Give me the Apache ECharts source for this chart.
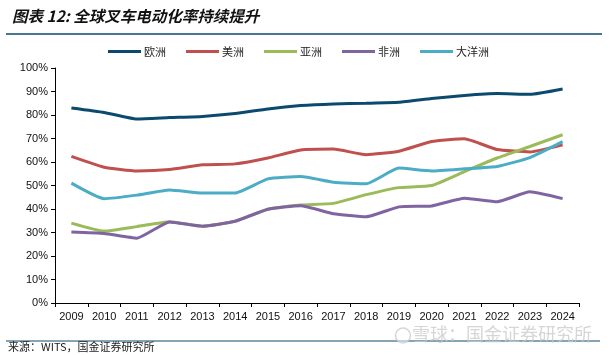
<!DOCTYPE html>
<html><head><meta charset="utf-8">
<script src="https://cdn.jsdelivr.net/npm/echarts@6/dist/echarts.min.js"></script>
<style>html,body{margin:0;padding:0;background:#fff}#c{width:610px;height:355px}</style>
</head><body><div id="c"></div>
<script>
const years = ['2009','2010','2011','2012','2013','2014','2015','2016','2017','2018','2019','2020','2021','2022','2023','2024'];
const europe   = [83.0,81.1,78.3,78.9,79.4,80.6,82.6,84.0,84.7,85.0,85.4,87.0,88.3,89.1,88.8,91.1];
const americas = [62.4,57.8,56.2,56.8,58.8,59.2,61.7,65.1,65.5,63.1,64.6,68.7,69.9,65.3,64.3,67.3];
const asia     = [34.0,30.6,32.5,34.6,32.7,34.8,39.9,41.7,42.4,46.1,49.1,50.0,55.9,61.7,66.6,71.6];
const africa   = [30.2,29.6,27.6,34.5,32.7,34.8,39.9,41.4,38.0,36.7,40.9,41.3,44.6,43.1,47.3,44.4];
const oceania  = [51.0,44.4,45.9,48.1,46.8,46.8,52.8,53.8,51.4,50.7,57.4,56.2,57.1,58.1,61.9,68.7];
const names = ['欧洲','美洲','亚洲','非洲','大洋洲'];
const colors = ['#0B4A6E','#C0504D','#9BBB59','#8064A2','#4BACC6'];
const yTicks = [0,10,20,30,40,50,60,70,80,90,100];

const chart = echarts.init(document.getElementById('c'));
const seriesData = [europe, americas, asia, africa, oceania];
chart.setOption({
  animation:false,
  color: colors,
  title:{text:'图表 12: 全球叉车电动化率持续提升',left:7,top:3,
    textStyle:{fontFamily:'Noto Sans CJK SC',fontSize:15.5,fontWeight:'bold',fontStyle:'italic',color:'#111'}},
  legend:{top:41,left:103,itemWidth:33,itemHeight:3,itemGap:20,icon:'rect',
    data:names,
    textStyle:{fontFamily:'Noto Sans CJK SC',fontSize:11,color:'#222',padding:[0,0,0,-2]}},
  grid:{left:55,right:31,top:68,bottom:52},
  xAxis:{type:'category',data:years,boundaryGap:true,
    axisLine:{lineStyle:{color:'#000',width:1}},
    axisTick:{show:true,length:4,lineStyle:{color:'#000'}},
    axisLabel:{fontFamily:'Liberation Sans',fontSize:11,color:'#111',margin:8}},
  yAxis:{type:'value',min:0,max:100,interval:10,
    axisLine:{show:true,lineStyle:{color:'#000',width:1}},
    axisTick:{show:true,length:4,lineStyle:{color:'#000'}},
    splitLine:{show:false},
    axisLabel:{fontFamily:'Liberation Sans',fontSize:11,color:'#111',margin:7,
      formatter:v=>yTicks.includes(v)?v+'%':''}},
  series: seriesData.map((d,i)=>({name:names[i],type:'line',data:d,
    smooth:0.15,symbol:'none',lineStyle:{width:3,color:colors[i]},itemStyle:{color:colors[i]},z:i})),
  graphic:[
    {type:'line',shape:{x1:6,y1:34,x2:602,y2:34},style:{stroke:'#0B4A6E',lineWidth:1.5}},
    {type:'line',shape:{x1:6,y1:341,x2:600,y2:341},style:{stroke:'#0B4A6E',lineWidth:1}},
    {type:'text',left:8,top:341,style:{text:'来源：WITS，国金证券研究所',fontFamily:'Noto Sans CJK SC',fontSize:11,fill:'#222'}},
    {type:'text',left:412,top:325,z:100,style:{text:'雪球：国金证券研究所',fontFamily:'Noto Sans CJK SC',fontSize:18,fill:'rgba(200,200,200,0.75)'}},
    {type:'circle',z:100,shape:{cx:403,cy:335.5,r:7.5},style:{fill:'rgba(255,255,255,0.5)',stroke:'rgba(200,200,200,0.75)',lineWidth:1.5}}
  ]
});
</script></body></html>
